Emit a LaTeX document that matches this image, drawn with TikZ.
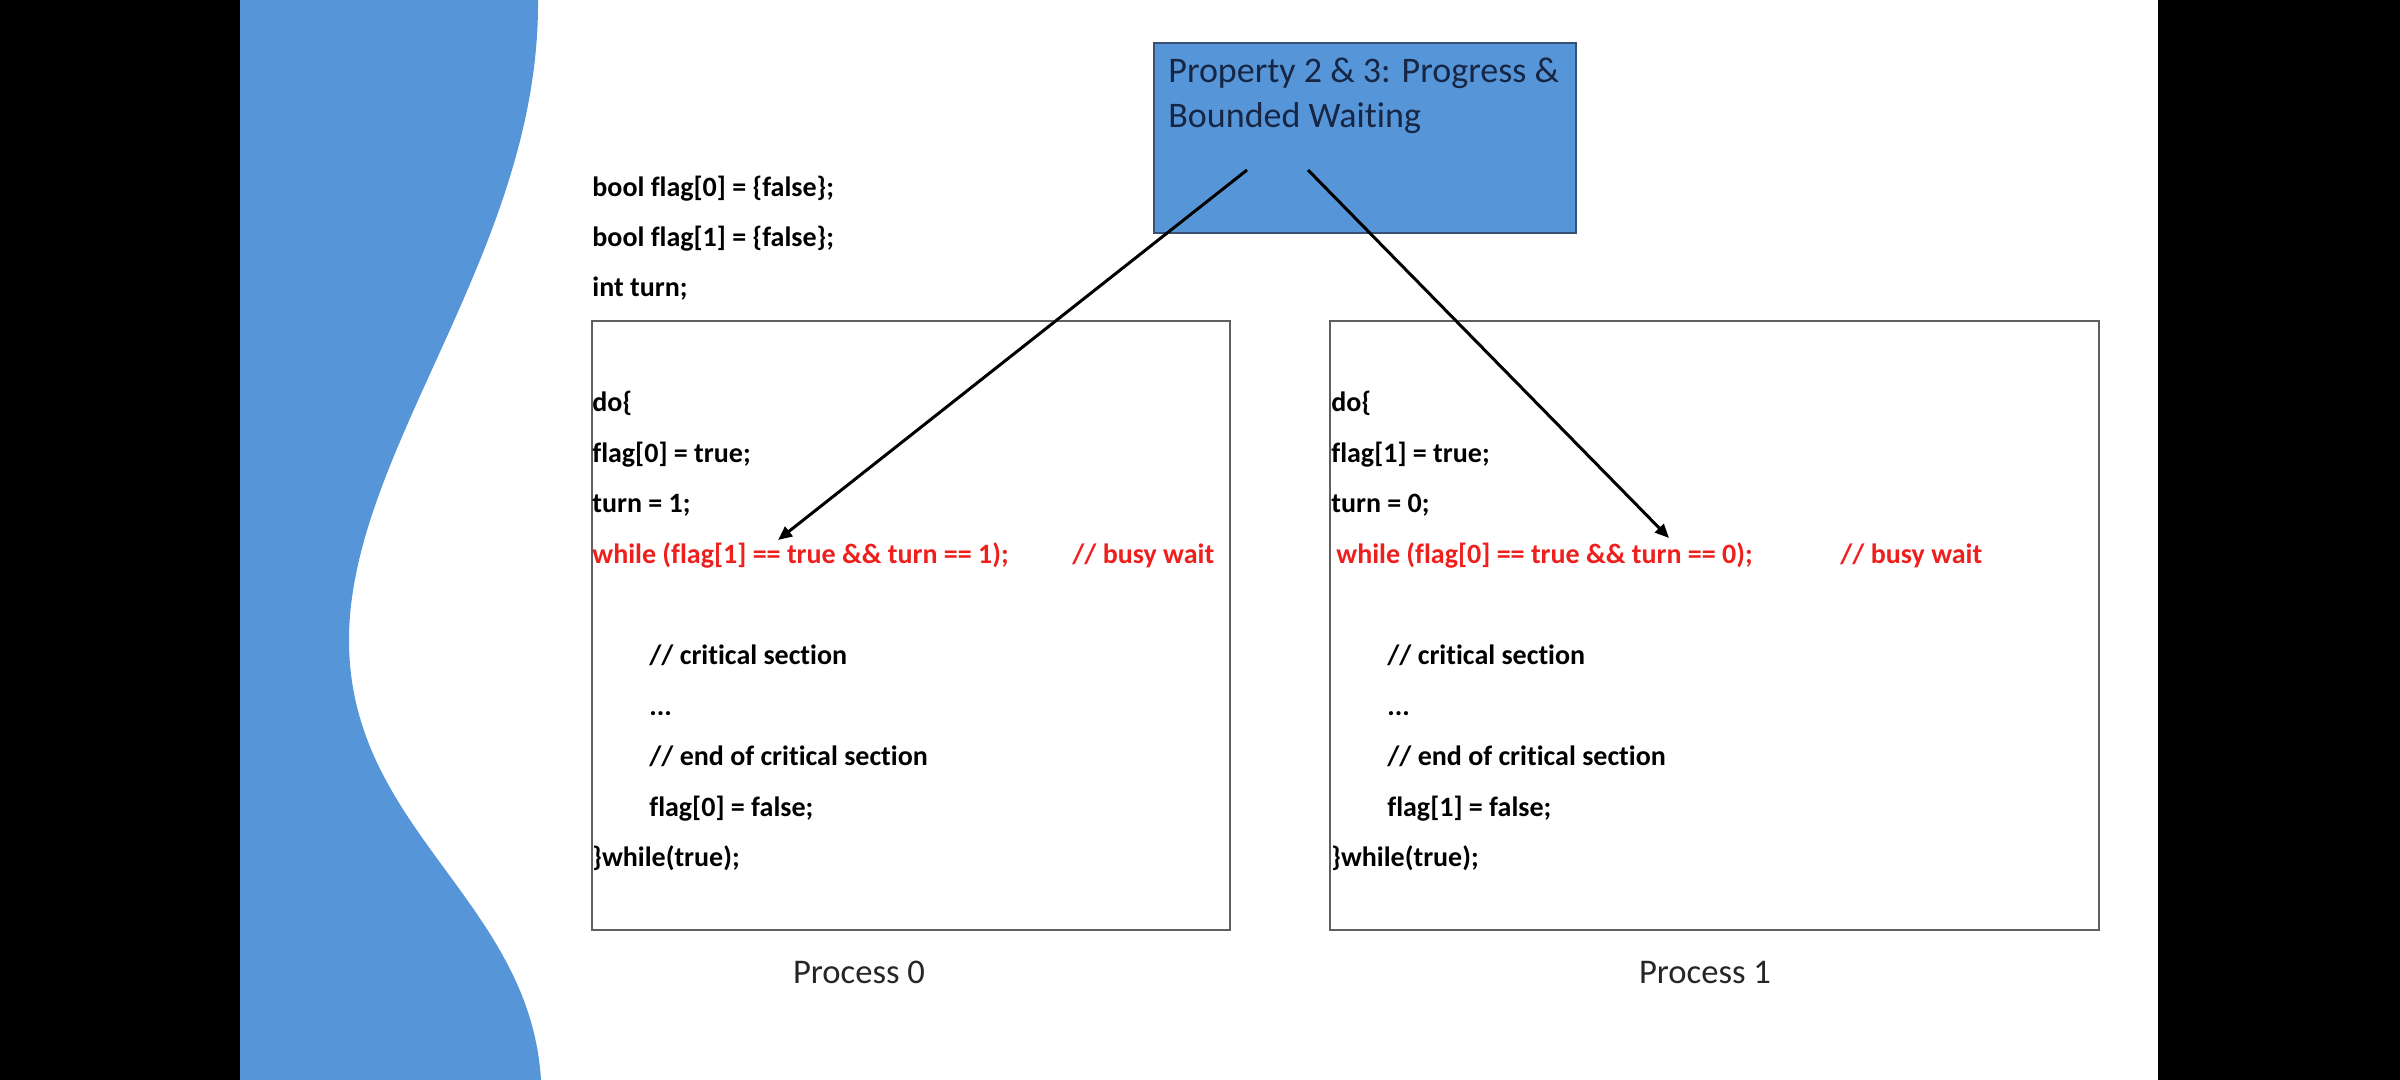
\documentclass[tikz,border=0pt]{standalone}
\usepackage{fontspec}
\setmainfont{Carlito}[Ligatures=NoCommon]
\usetikzlibrary{arrows.meta}
\definecolor{slideblue}{RGB}{86,150,216}
\definecolor{boxedge}{RGB}{55,80,115}
\definecolor{titletext}{RGB}{22,38,68}
\definecolor{codered}{RGB}{238,32,30}
\definecolor{frameedge}{RGB}{95,95,95}
\tikzset{
  code/.style={anchor=base west, inner sep=0pt, font=\fontsize{14}{16}\selectfont\bfseries, text=black},
  redcode/.style={code, text=codered},
  label/.style={anchor=base, inner sep=0pt, font=\fontsize{17.3}{20}\selectfont, text=black!85},
  procbox/.style={draw=frameedge, line width=1.1pt, fill=white, anchor=north west, inner sep=0pt},
  arrowline/.style={line width=1.5pt, -{Triangle[length=7pt,width=6pt]}}
}
\begin{document}
\begin{tikzpicture}[x=0.5pt,y=-0.5pt]
\useasboundingbox (0,0) rectangle (2400,1080);
% frame
\fill[black] (0,0) rectangle (2400,1080);
\fill[white] (240,0) rectangle (2158,1080);
% blue wave
\fill[slideblue] (240,0) -- (538,0) .. controls (540,250) and (349,450) .. (349,640)
  .. controls (349,830) and (530,900) .. (541,1080) -- (240,1080) -- cycle;
% title box
\node[draw=boxedge, line width=1pt, fill=slideblue, anchor=north west, minimum width=211pt, minimum height=95pt, inner sep=0pt] (prop) at (1153,42) {};
\node[anchor=base west, inner sep=0pt, font=\fontsize{18}{21.5}\selectfont, text=titletext] (t1) at (1168,83) {Property 2 \& 3: Progress \&};
\node[anchor=base west, inner sep=0pt, font=\fontsize{18}{21.5}\selectfont, text=titletext] (t2) at (1168,128) {Bounded Waiting};
% declarations
\node[code] (d1) at (592,197) {bool flag[0] = \{false\};};
\node[code] (d2) at (592,247) {bool flag[1] = \{false\};};
\node[code] (d3) at (592,297) {int turn;};
% process boxes
\node[procbox, minimum width=319pt, minimum height=304.5pt] (p0) at (591,320) {};
\node[procbox, minimum width=384.5pt, minimum height=304.5pt] (p1) at (1329,320) {};
% process 0 code
\node[code] (a1) at (592,412) {do\{};
\node[code] (a2) at (592,462.5) {flag[0] = true;};
\node[code] (a3) at (592,513) {turn = 1;};
\node[redcode] (a4) at (592,563.5) {while (flag[1] == true \&\& turn == 1);};
\node[redcode] (a5) at (1072,563.5) {// busy wait};
\node[code] (a6) at (649,664.5) {// critical section};
\node[code] (a7) at (649,715) {...};
\node[code] (a8) at (649,765.5) {// end of critical section};
\node[code] (a9) at (649,816) {flag[0] = false;};
\node[code] (a10) at (592,866.5) {\}while(true);};
% process 1 code
\node[code] (b1) at (1331,412) {do\{};
\node[code] (b2) at (1331,462.5) {flag[1] = true;};
\node[code] (b3) at (1331,513) {turn = 0;};
\node[redcode] (b4) at (1336,563.5) {while (flag[0] == true \&\& turn == 0);};
\node[redcode] (b5) at (1840,563.5) {// busy wait};
\node[code] (b6) at (1387,664.5) {// critical section};
\node[code] (b7) at (1387,715) {...};
\node[code] (b8) at (1387,765.5) {// end of critical section};
\node[code] (b9) at (1387,816) {flag[1] = false;};
\node[code] (b10) at (1331,866.5) {\}while(true);};
% labels
\node[label] (l0) at (859,983) {Process 0};
\node[label] (l1) at (1705,983) {Process 1};
% arrows
\coordinate (s0) at (1247,170);
\coordinate (s1) at (1308,170);
\coordinate (e0) at (778,540);
\coordinate (e1) at (1669,538);
\draw[arrowline] (s0) -- (e0);
\draw[arrowline] (s1) -- (e1);
\end{tikzpicture}
\end{document}
